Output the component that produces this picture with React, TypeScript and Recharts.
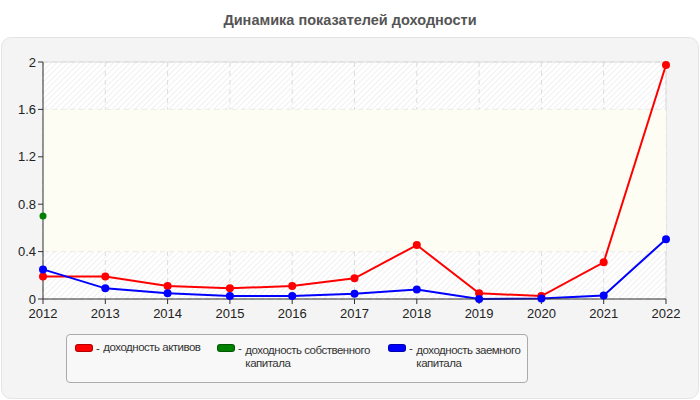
import React from "react";
import {
  CartesianGrid,
  Line,
  LineChart,
  ReferenceArea,
  XAxis,
  YAxis,
} from "recharts";

const years = ["2012", "2013", "2014", "2015", "2016", "2017", "2018", "2019", "2020", "2021", "2022"];
const assetsReturn = [0.19, 0.19, 0.11, 0.09, 0.11, 0.175, 0.455, 0.048, 0.025, 0.31, 1.975];
const equityReturn: (number | null)[] = [0.7, null, null, null, null, null, null, null, null, null, null];
const debtReturn = [0.25, 0.09, 0.048, 0.025, 0.025, 0.045, 0.08, 0.0, 0.005, 0.03, 0.505];
const yTicks = [0, 0.4, 0.8, 1.2, 1.6, 2];

const series = [
  { key: "assets", name: "доходность активов", color: "#ff0000" },
  { key: "equity", name: "доходность собственного капитала", color: "#008000" },
  { key: "debt", name: "доходность заемного капитала", color: "#0000ff" },
];

const data = years.map((year, i) => ({
  year,
  assets: assetsReturn[i],
  equity: equityReturn[i],
  debt: debtReturn[i],
}));

const font = "'Liberation Sans', Arial, sans-serif";

function LegendBox() {
  const lefts = [8, 150, 321];
  const widths = [130, 140, 120];
  return (
    <div
      style={{
        position: "absolute",
        left: 66,
        top: 334,
        width: 460,
        height: 47,
        border: "1px solid #aaa",
        borderRadius: 4,
        background: "#f8f8f8",
        fontFamily: font,
        fontSize: 11.5,
        letterSpacing: -0.5,
        color: "#333",
      }}
    >
      {series.map((s, i) => (
        <div
          key={s.key}
          style={{ position: "absolute", left: lefts[i], top: 6, display: "flex", alignItems: "flex-start" }}
        >
          <div
            style={{
              width: 16,
              height: 6,
              marginTop: 3,
              background: s.color,
              border: "1px solid rgba(0,0,0,0.3)",
              borderRadius: 3,
            }}
          />
          <span style={{ marginLeft: 3, marginRight: 4, lineHeight: "14px" }}>-</span>
          <div style={{ width: widths[i], lineHeight: "13px", marginTop: i === 0 ? 0 : 3 }}>{s.name}</div>
        </div>
      ))}
    </div>
  );
}

export default function App() {
  return (
    <div style={{ position: "absolute", left: 0, top: 0, width: 700, height: 400, background: "#fff" }}>
      <div
        style={{
          position: "absolute",
          left: 0,
          top: 0,
          width: 700,
          textAlign: "center",
          fontFamily: font,
          fontWeight: "bold",
          fontSize: 14.5,
          color: "#555",
          lineHeight: "40px",
        }}
      >
        Динамика показателей доходности
      </div>
      <div
        style={{
          position: "absolute",
          left: 1,
          top: 37,
          width: 696,
          height: 360,
          background: "#f4f4f4",
          border: "1px solid #e4e4e4",
          borderRadius: 10,
        }}
      />
      <div style={{ position: "absolute", left: 0, top: 0 }}>
        <LineChart
          width={700}
          height={400}
          data={data}
          margin={{ top: 62, right: 34, bottom: 71, left: 0 }}
        >
          <defs>
            <pattern id="hatch" width="4" height="4" patternUnits="userSpaceOnUse" patternTransform="rotate(45)">
              <rect width="4" height="4" fill="#ffffff" />
              <line x1="0" y1="0" x2="0" y2="4" stroke="#ececec" strokeWidth="1.5" />
            </pattern>
          </defs>
          <CartesianGrid stroke="none" fill="url(#hatch)" />
          <ReferenceArea y1={0.4} y2={1.6} fill="#fdfdf4" fillOpacity={1} stroke="none" ifOverflow="hidden" />
          <CartesianGrid strokeDasharray="5 4" stroke="#dcdcdc" />
          <XAxis
            dataKey="year"
            scale="point"
            padding={{ left: 0, right: 0 }}
            height={30}
            tickSize={5}
            tickMargin={5}
            tick={{ fill: "#222", fontSize: 13, fontFamily: font }}
            stroke="#333"
            tickLine={{ stroke: "#333" }}
          />
          <YAxis
            domain={[0, 2]}
            ticks={yTicks}
            width={43}
            tickSize={5}
            tick={{ fill: "#222", fontSize: 13, fontFamily: font }}
            stroke="#333"
            tickLine={{ stroke: "#333" }}
          />
          <line x1={43} y1={62} x2={666} y2={62} stroke="#dddddd" />
          <line x1={666} y1={62} x2={666} y2={299} stroke="#dddddd" />
          <Line
            dataKey="assets"
            name={series[0].name}
            stroke={series[0].color}
            strokeWidth={2}
            dot={{ r: 4, fill: series[0].color, stroke: "none" }}
            isAnimationActive={false}
          />
          <Line
            dataKey="equity"
            name={series[1].name}
            stroke={series[1].color}
            strokeWidth={2}
            dot={{ r: 3.5, fill: series[1].color, stroke: "none" }}
            isAnimationActive={false}
          />
          <Line
            dataKey="debt"
            name={series[2].name}
            stroke={series[2].color}
            strokeWidth={2}
            dot={{ r: 4, fill: series[2].color, stroke: "none" }}
            isAnimationActive={false}
          />
        </LineChart>
      </div>
      <LegendBox />
    </div>
  );
}
